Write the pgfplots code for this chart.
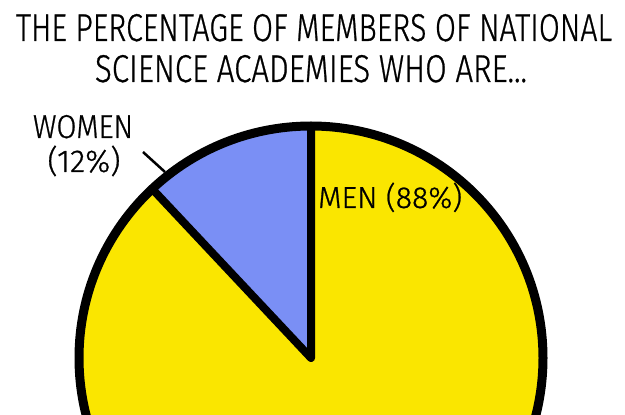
\documentclass[border=0pt]{standalone}
\usepackage{pgfplots}
\pgfplotsset{compat=1.18}
\usepackage{pgfplotstable}
\usetikzlibrary{calc}
\usepackage{graphicx}
\usepackage{fontspec}
\setmainfont{Fira Sans Light}[FakeBold=0.8]

\definecolor{menyellow}{RGB}{250,230,0}
\definecolor{womenblue}{RGB}{122,143,245}

% share of members, percent
\pgfplotstableread{
group value
Women 12
Men 88
}\piedata

\begin{document}
\begin{tikzpicture}
\useasboundingbox (0,0) rectangle (625pt,415pt);
\clip (0,0) rectangle (625pt,415pt);
\pgfplotstablegetelem{0}{value}\of\piedata
\pgfmathsetmacro\wang{90+3.6*\pgfplotsretval}
\begin{axis}[
    at={(0,0)}, anchor=south west,
    width=625pt, height=415pt, scale only axis,
    xmin=0, xmax=625, ymin=0, ymax=415,
    hide axis, clip=false,
]
% whole pie, men's share
\fill[menyellow] (axis cs:311,57) circle[radius=232pt];
% women's wedge
\fill[womenblue] (axis cs:311,57) -- ++(90:232pt)
    arc[start angle=90, end angle=\wang, radius=232pt] -- cycle;
\draw[line width=8pt, line cap=round, line join=round]
    ($(axis cs:311,57)+(90:232pt)$) -- (axis cs:311,57) -- ++(\wang:232pt);
\draw[line width=9pt] (axis cs:311,57) circle[radius=232pt];
% leader line
\draw[line width=2.5pt] (axis cs:143,263) -- (axis cs:165,243);

% labels
\node[anchor=base, inner sep=0] at (axis cs:314,374)
    {\resizebox{596pt}{27pt}{THE PERCENTAGE OF MEMBERS OF NATIONAL}};
\node[anchor=base, inner sep=0] at (axis cs:311,333)
    {\resizebox{432pt}{27pt}{SCIENCE ACADEMIES WHO ARE...}};
\node[anchor=base, inner sep=0] at (axis cs:83,277)
    {\resizebox{100pt}{23pt}{WOMEN}};
\node[anchor=base, inner sep=0] at (axis cs:84,243)
    {\resizebox{73pt}{!}{(12\%)}};
\node[anchor=base west, inner sep=0] at (axis cs:318,207)
    {\resizebox{144pt}{!}{MEN (88\%)}};
\end{axis}
\end{tikzpicture}
\end{document}
